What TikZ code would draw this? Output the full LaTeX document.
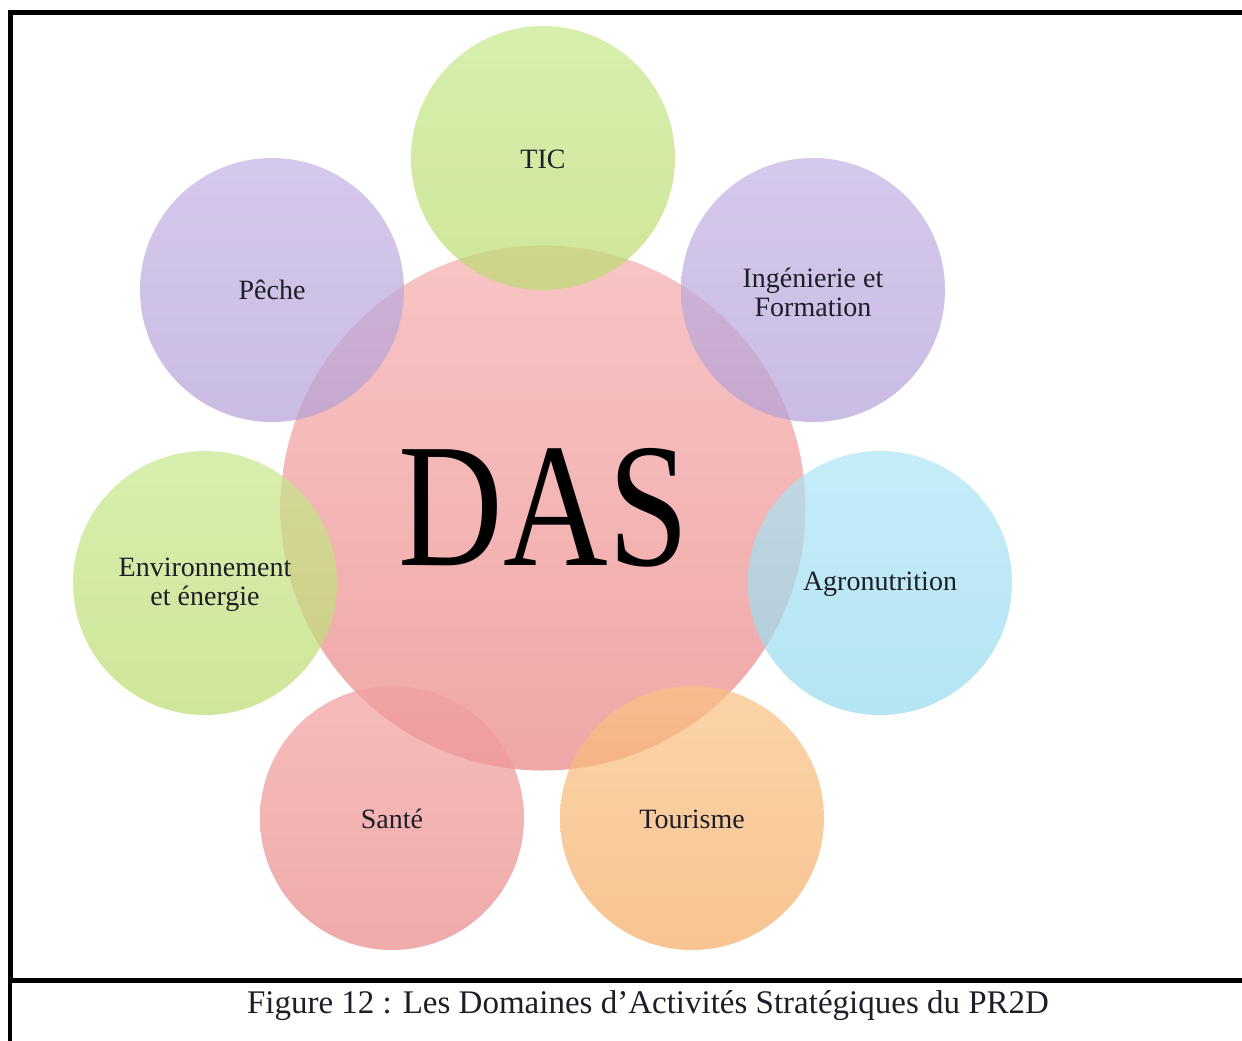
\documentclass[tikz,border=0pt]{standalone}
\usepackage{fontspec}
\usepackage{graphicx}
\setmainfont{Liberation Serif}
\definecolor{dasTop}{RGB}{245,172,172}
\definecolor{dasBot}{RGB}{234,130,130}
\definecolor{grnTop}{RGB}{200,232,140}
\definecolor{grnBot}{RGB}{188,220,112}
\definecolor{purTop}{RGB}{196,178,228}
\definecolor{purBot}{RGB}{180,160,216}
\definecolor{bluTop}{RGB}{172,230,246}
\definecolor{bluBot}{RGB}{150,218,238}
\definecolor{orgTop}{RGB}{250,194,132}
\definecolor{orgBot}{RGB}{246,172,100}
\definecolor{pnkTop}{RGB}{242,160,160}
\definecolor{pnkBot}{RGB}{234,136,136}
\definecolor{labelInk}{RGB}{30,30,40}
\tikzset{
  bubble/.style={circle, minimum size=264pt, inner sep=0pt, fill opacity=0.7, text opacity=1},
  bigbubble/.style={circle, minimum size=525pt, inner sep=0pt, fill opacity=0.7, text opacity=1},
  frameline/.style={line width=5pt, black},
  lbl/.style={align=center, font=\fontsize{28}{29}\selectfont, text=labelInk, inner sep=0pt},
}
\begin{document}
\begin{tikzpicture}[x=1pt,y=-1pt]
\useasboundingbox (0,0) rectangle (1242,1041);
\fill[white] (0,0) rectangle (1242,1041);
% central circle
\node[bigbubble, top color=dasTop, bottom color=dasBot] (das) at (543,508) {};
% satellites
\node[bubble, top color=grnTop, bottom color=grnBot] (tic) at (543,158) {};
\node[bubble, top color=purTop, bottom color=purBot] (peche) at (272,290) {};
\node[bubble, top color=purTop, bottom color=purBot] (inge) at (813,290) {};
\node[bubble, top color=grnTop, bottom color=grnBot] (env) at (205,583) {};
\node[bubble, top color=bluTop, bottom color=bluBot] (agro) at (880,583) {};
\node[bubble, top color=pnkTop, bottom color=pnkBot] (sante) at (392,818) {};
\node[bubble, top color=orgTop, bottom color=orgBot] (tour) at (692,818) {};
% labels
\node[lbl] (ticL) at (543,159) {TIC};
\node[lbl] (pecheL) at (272,290) {Pêche};
\node[lbl] (ingeL) at (813,292) {Ingénierie et\\Formation};
\node[lbl] (envL) at (205,585) {Environnement\\et énergie};
\node[lbl] (agroL) at (880,584) {Agronutrition};
\node[lbl] (santeL) at (392,819) {Santé};
\node[lbl] (tourL) at (692,819) {Tourisme};
\node[inner sep=0pt, text=black] (dasL) at (544,508) {\scalebox{1}[1.22]{\fontsize{145}{150}\selectfont DAS}};
% frame
\begin{scope}
\clip (0,0) rectangle (1242,1041);
\draw[frameline] (1250,12.5) -- (10,12.5) -- (10,980.5) -- (1250,980.5);
\draw[line width=4pt] (10,980) -- (10,1050);
\end{scope}
% caption
\node[inner sep=0pt, font=\fontsize{33}{35}\selectfont, text=labelInk] (cap) at (648,1006) {Figure 12 : Les Domaines d’Activités Stratégiques du PR2D};
\end{tikzpicture}
\end{document}
